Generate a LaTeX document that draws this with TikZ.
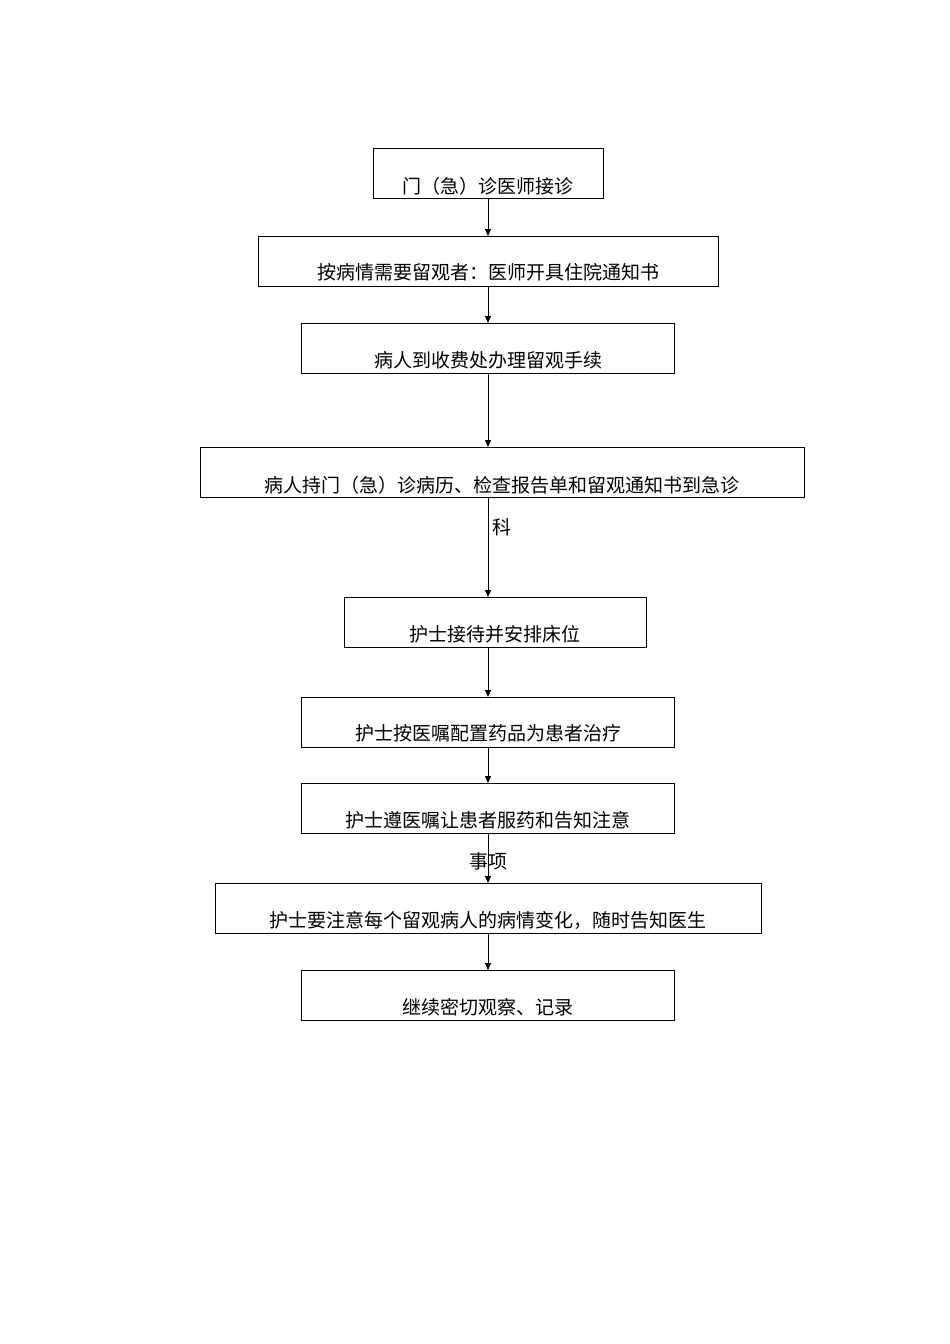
\documentclass[tikz,border=0pt]{standalone}
\usepackage{fontspec}
\setmainfont{Noto Sans CJK SC}
\usetikzlibrary{arrows.meta}
\begin{document}
\begin{tikzpicture}[x=1pt,y=-1pt,
  box/.style={draw,line width=0.8pt},
  txt/.style={font=\fontsize{19}{22}\selectfont,inner sep=0pt},
  arr/.style={-{Triangle[length=7pt,width=6pt]},line width=0.8pt}]
\useasboundingbox (0,0) rectangle (950,1344);
\def\bx#1#2#3#4#5{\path[box] (#2,#4) rectangle (#3,#4+50);
  \coordinate (#1t) at (488,#4); \coordinate (#1b) at (488,#4+50);}
\bx{a}{373}{603}{148}{}
\bx{b}{258}{718}{236}{}
\bx{c}{301}{674}{323}{}
\bx{d}{200}{804}{447}{}
\bx{e}{344}{646}{597}{}
\bx{f}{301}{674}{697}{}
\bx{g}{301}{674}{783}{}
\bx{h}{215}{761}{883}{}
\bx{i}{301}{674}{970}{}
\node[txt] (ta) at (488,186) {门（急）诊医师接诊};
\node[txt] (tb) at (488,272) {按病情需要留观者：医师开具住院通知书};
\node[txt] (tc) at (488,360) {病人到收费处办理留观手续};
\node[txt] (td) at (502,485) {病人持门（急）诊病历、检查报告单和留观通知书到急诊};
\node[txt] (td2) at (502,527) {科};
\node[txt] (te) at (495,634) {护士接待并安排床位};
\node[txt] (tf) at (488,733) {护士按医嘱配置药品为患者治疗};
\node[txt] (tg) at (488,820) {护士遵医嘱让患者服药和告知注意};
\node[txt] (tg2) at (488,861) {事项};
\node[txt] (th) at (488,920) {护士要注意每个留观病人的病情变化，随时告知医生};
\node[txt] (ti) at (488,1007) {继续密切观察、记录};
\draw[arr] (ab) -- (bt);
\draw[arr] (bb) -- (ct);
\draw[arr] (cb) -- (dt);
\draw[arr] (db) -- (et);
\draw[arr] (eb) -- (ft);
\draw[arr] (fb) -- (gt);
\draw[arr] (gb) -- (ht);
\draw[arr] (hb) -- (it);
\end{tikzpicture}
\end{document}
